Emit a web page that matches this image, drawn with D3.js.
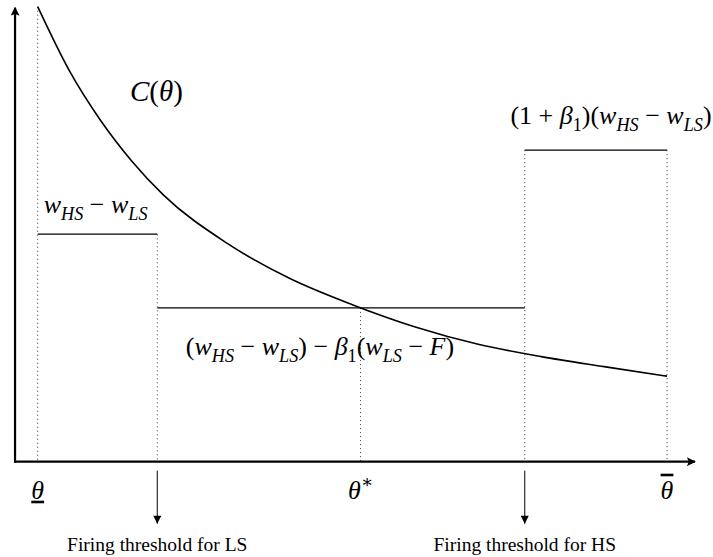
<!DOCTYPE html>
<html>
<head>
<meta charset="utf-8">
<script src="https://cdn.jsdelivr.net/npm/d3@7"></script>
<style>
body { margin: 0; background: #fff; }
text { font-family: "Liberation Serif", "DejaVu Serif", serif; fill: #000; white-space: pre; }
</style>
</head>
<body>
<div id="chart"></div>
<script>
var w = 713, h = 557;

// theta runs from its lower bound (0) to its upper bound (1), C as % of its top value
var thetaPts = [0, 0.05, 0.1, 0.15, 0.2, 0.3, 0.4, 0.5, 0.6, 0.7, 0.8, 0.9, 1];
var costVals = [100, 86, 75, 66, 58.6, 48.1, 40.3, 34.5, 29.6, 25.8, 23.1, 20.9, 18.8];

// the step function (benefit of firing)
var stepFrom = [0, 0.19, 0.774];
var stepTo = [0.19, 0.774, 1];
var stepVals = [50, 33.8, 68.5];

// dotted guides
var markTheta = [0, 0.19, 0.513, 0.774, 1];
var markTop = [100, 50, 33.8, 68.5, 68.5];

var thresholdTheta = [0.19, 0.774];
var thresholdText = ["Firing threshold for LS", "Firing threshold for HS"];

var svg = d3.select("#chart").append("svg")
    .attr("width", w).attr("height", h);

var x = d3.scaleLinear().domain([0, 1]).range([37.7, 667]);
var y = d3.scaleLinear().domain([0, 100]).range([461.7, 6.7]);

svg.append("defs").html(`
<marker id="axisHead" viewBox="0 0 10 10" refX="9" refY="5" markerUnits="userSpaceOnUse" markerWidth="11" markerHeight="9" orient="auto">
  <path d="M0,0 L10,5 L0,10 L2,5 z" fill="#000"/>
</marker>
<marker id="thinHead" viewBox="0 0 10 10" refX="10" refY="5" markerUnits="userSpaceOnUse" markerWidth="11" markerHeight="8" orient="auto">
  <path d="M0,0 L10,5 L0,10 z" fill="#000"/>
</marker>`);

// dotted verticals
svg.append("g").selectAll("line").data(markTheta).enter().append("line")
    .attr("x1", d => x(d)).attr("x2", d => x(d))
    .attr("y1", (d, i) => y(markTop[i])).attr("y2", y(0))
    .attr("stroke", "#555").attr("stroke-width", 1)
    .attr("stroke-dasharray", "1.2,2.8");

// axes
var x0 = x(-0.036);
svg.append("line")
    .attr("x1", x0).attr("x2", x0).attr("y1", y(0) + 1).attr("y2", y(100) + 1)
    .attr("stroke", "#000").attr("stroke-width", 2.2)
    .attr("marker-end", "url(#axisHead)");
svg.append("line")
    .attr("x1", x0 - 1).attr("x2", x(1.0445)).attr("y1", y(0)).attr("y2", y(0))
    .attr("stroke", "#000").attr("stroke-width", 2.2)
    .attr("marker-end", "url(#axisHead)");

// steps
svg.append("g").selectAll("line").data(stepVals).enter().append("line")
    .attr("x1", (d, i) => x(stepFrom[i])).attr("x2", (d, i) => x(stepTo[i]))
    .attr("y1", d => y(d)).attr("y2", d => y(d))
    .attr("stroke", "#000").attr("stroke-width", 1.3);

// C(theta)
var line = d3.line()
    .x((d, i) => x(thetaPts[i]))
    .y(d => y(d))
    .curve(d3.curveMonotoneX);
svg.append("path").datum(costVals)
    .attr("d", line)
    .attr("fill", "none").attr("stroke", "#000").attr("stroke-width", 1.6);

// threshold arrows
svg.append("g").selectAll("line").data(thresholdTheta).enter().append("line")
    .attr("x1", d => x(d)).attr("x2", d => x(d))
    .attr("y1", y(0) + 9).attr("y2", y(0) + 62)
    .attr("stroke", "#000").attr("stroke-width", 1)
    .attr("marker-end", "url(#thinHead)");

svg.append("g").selectAll("text").data(thresholdText).enter().append("text")
    .attr("x", (d, i) => x(thresholdTheta[i])).attr("y", y(0) + 89)
    .attr("text-anchor", "middle").attr("font-size", 19.5)
    .text(d => d);

// math labels: parts are [text, style]
function mathLabel(px, py, parts, size, anchor) {
    var t = svg.append("text").attr("x", px).attr("y", py)
        .attr("font-size", size).attr("text-anchor", anchor || "start");
    var shift = 0;
    parts.forEach(function (p) {
        var s = p[1];
        var target = (s == "sub" || s == "subr") ? size * 0.28 : (s == "sup" ? -size * 0.42 : 0);
        t.append("tspan").text(p[0])
            .attr("dy", target - shift)
            .attr("font-style", (s == "i" || s == "sub") ? "italic" : "normal")
            .attr("font-size", target ? size * 0.7 : size);
        shift = target;
    });
    return t;
}

mathLabel(130, 101, [["C", "i"], ["(", "r"], ["θ", "i"], [")", "r"]], 29);

mathLabel(x(0) + 6, y(stepVals[0]) - 21,
    [["w", "i"], ["HS", "sub"], [" − ", "r"], ["w", "i"], ["LS", "sub"]], 26);

mathLabel(611, y(stepVals[2]) - 26,
    [["(1 + ", "r"], ["β", "i"], ["1", "subr"], [")(", "r"], ["w", "i"], ["HS", "sub"],
     [" − ", "r"], ["w", "i"], ["LS", "sub"], [")", "r"]], 26, "middle");

mathLabel(320, y(stepVals[1]) + 47,
    [["(", "r"], ["w", "i"], ["HS", "sub"], [" − ", "r"], ["w", "i"], ["LS", "sub"],
     [") − ", "r"], ["β", "i"], ["1", "subr"], ["(", "r"], ["w", "i"], ["LS", "sub"],
     [" − ", "r"], ["F", "i"], [")", "r"]], 26, "middle");

// theta marks on the axis
svg.append("text").attr("x", x(0)).attr("y", y(0) + 37)
    .attr("text-anchor", "middle").attr("font-size", 26).attr("font-style", "italic")
    .attr("text-decoration", "underline").text("θ");
mathLabel(x(0.513), y(0) + 37, [["θ", "i"], ["∗", "sup"]], 26, "middle");
svg.append("text").attr("x", x(1)).attr("y", y(0) + 37)
    .attr("text-anchor", "middle").attr("font-size", 26).attr("font-style", "italic")
    .attr("text-decoration", "overline").text("θ");
</script>
</body>
</html>
